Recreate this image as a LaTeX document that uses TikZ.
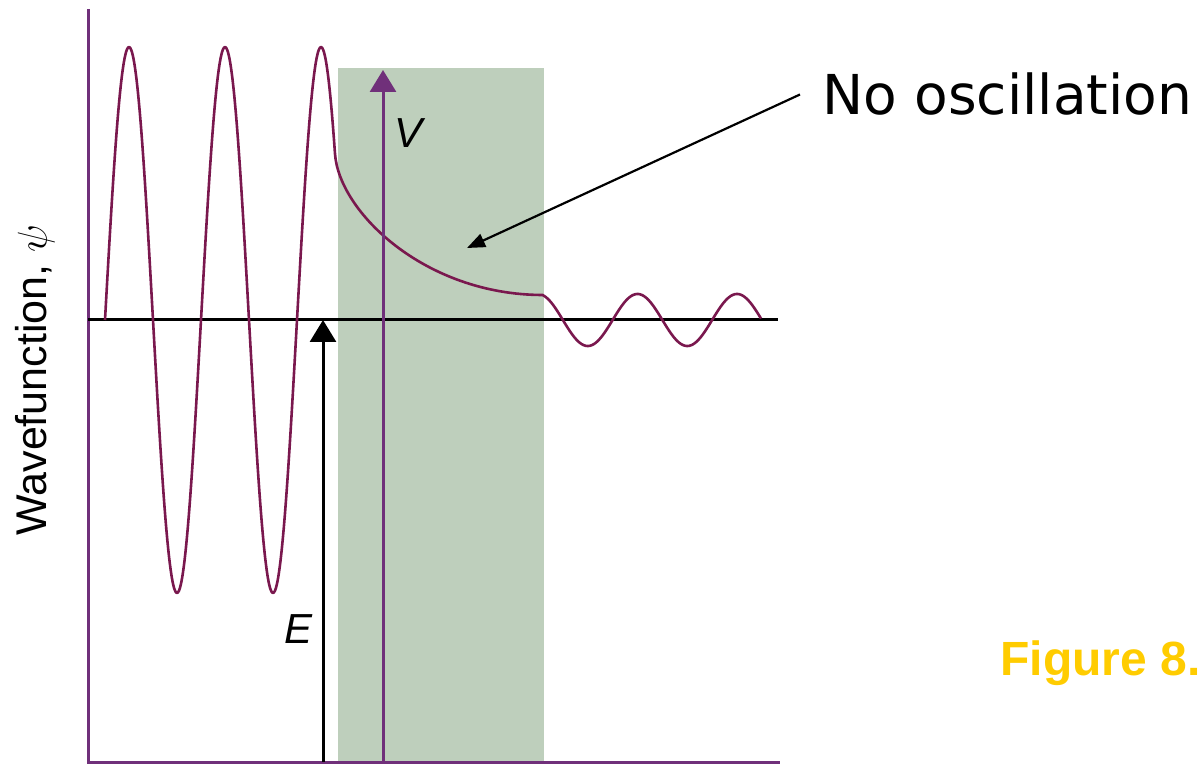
\documentclass[tikz,border=0pt]{standalone}
\usepackage{fontspec}
\setmainfont{Liberation Sans}
\newfontfamily\calloutfont{DejaVu Sans}
\usetikzlibrary{arrows.meta}
\definecolor{axispurple}{RGB}{112,48,122}
\definecolor{wavecol}{RGB}{122,24,78}
\definecolor{barriergreen}{RGB}{190,207,188}
\definecolor{figgold}{RGB}{255,204,0}
\begin{document}
\begin{tikzpicture}[x = 0.5pt, y = -0.5pt, > = {Stealth[length=11pt,width=13pt,inset=0pt]},
	purpleaxis/.style = {axispurple,line width=1.5pt},
	psiwave/.style = {wavecol,line width=1.3pt,line join=round},
	lbl/.style = {inner sep=0pt,font=\itshape\fontsize{21}{25}\selectfont}]
	\useasboundingbox (0,0) rectangle (1198,764);
	% Vùng rào thế
	\fill[barriergreen] (338,68) rectangle (544,762);
	% Vẽ hai trục
	\draw[purpleaxis] (88,9) -- (88,762) -- (780,762);
	\draw[line width=1.5pt] (88,320) -- (778,320);
	\node[rotate=90,inner sep=0pt,font=\fontsize{21.5}{25}\selectfont] (psiLabel) at (35,380) {Wavefunction, $\psi$};
	% Hàm sóng
	\draw[psiwave,smooth,samples=200]
	plot[domain=105:335](\x,{320-273*cos(3.75*(\x-129))})
	.. controls (339,212) and (425,295) .. (543,295)
	-- plot[domain=543:761](\x,{320-26*cos(3.618*(\x-538))});
	% Mũi tên V và E
	\coordinate (Vfoot) at (383,762);
	\coordinate (Vtip) at (383,70);
	\draw[purpleaxis,->] (Vfoot) -- (Vtip);
	\node[lbl] (Vlabel) at (409,133) {V};
	\coordinate (Efoot) at (323,762);
	\coordinate (Etip) at (323,320);
	\draw[line width=1.5pt,->] (Efoot) -- (Etip);
	\node[lbl] (Elabel) at (299,629) {E};
	% Chú thích
	\node[anchor=base west,inner sep=0pt,font=\calloutfont\fontsize{27.5}{32}\selectfont] (oscLabel) at (822,115) {No oscillation};
	\coordinate (oscTip) at (467,248);
	\draw[line width=1.1pt,-{Stealth[length=9pt,width=7pt,inset=0pt]}] ([xshift=-11pt]oscLabel.west) -- (oscTip);
	\node[anchor=base west,inner sep=0pt,text=figgold,font=\bfseries\fontsize{24}{28}\selectfont] (figLabel) at (1000,675) {Figure 8.};
\end{tikzpicture}
\end{document}
